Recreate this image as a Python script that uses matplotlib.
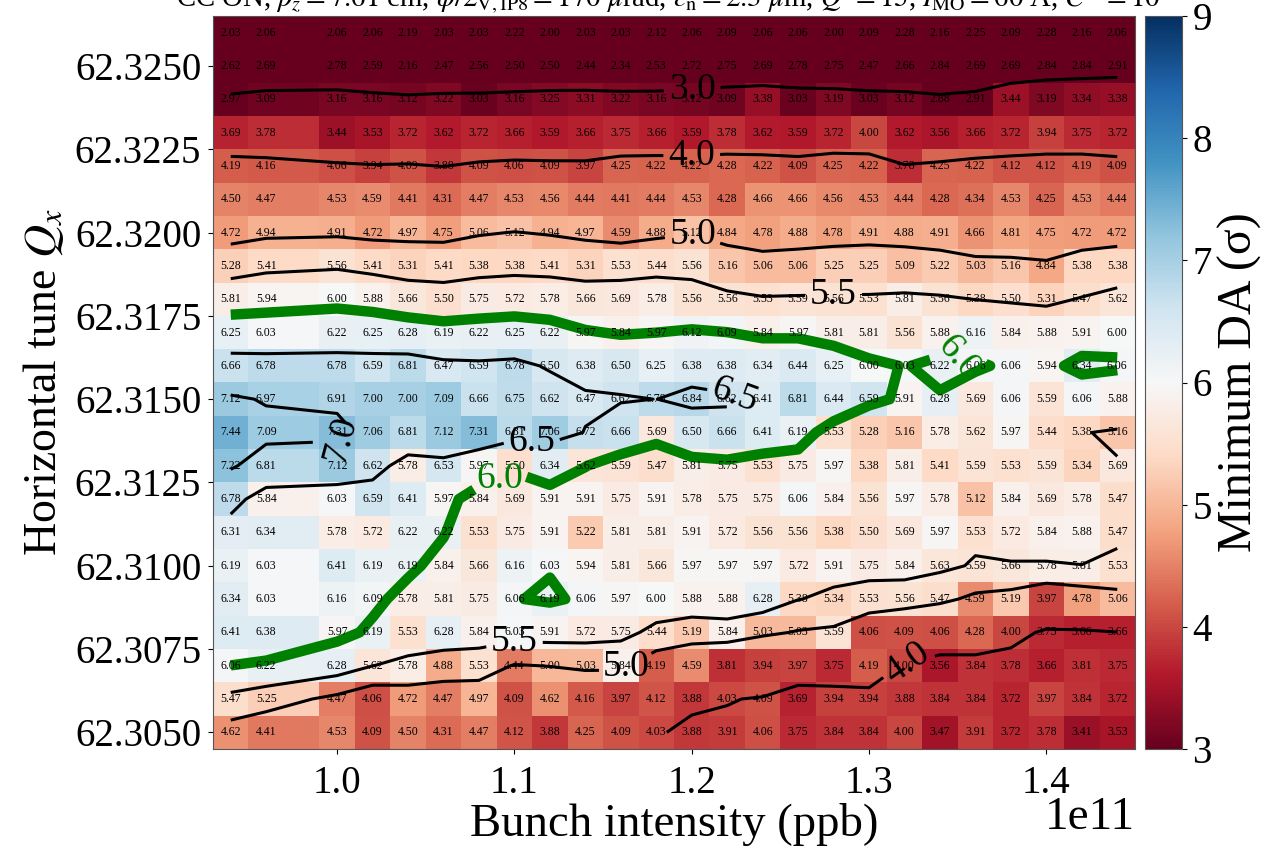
import numpy as np
import matplotlib
matplotlib.use('Agg')
import matplotlib.pyplot as plt

plt.rcParams['font.family'] = ['Liberation Serif', 'DejaVu Serif']
plt.rcParams['mathtext.fontset'] = 'stix'

# Intensite (ppb) et tune horizontal
bunch_intensity = [0.94, 0.96, 1.00, 1.02, 1.04, 1.06, 1.08, 1.10, 1.12, 1.14, 1.16, 1.18, 1.20,
                   1.22, 1.24, 1.26, 1.28, 1.30, 1.32, 1.34, 1.36, 1.38, 1.40, 1.42, 1.44]
tune_qx = [62.326, 62.325, 62.324, 62.323, 62.322, 62.321, 62.320, 62.319, 62.318, 62.317, 62.316,
           62.315, 62.314, 62.313, 62.312, 62.311, 62.310, 62.309, 62.308, 62.307, 62.306, 62.305]

# DA minimum, une ligne par tune (du haut vers le bas)
da_326 = [2.03, 2.06, 2.06, 2.06, 2.19, 2.03, 2.03, 2.22, 2.00, 2.03, 2.03, 2.12, 2.06, 2.09, 2.06, 2.06, 2.00, 2.09, 2.28, 2.16, 2.25, 2.09, 2.28, 2.16, 2.06]
da_325 = [2.62, 2.69, 2.78, 2.59, 2.16, 2.47, 2.56, 2.50, 2.50, 2.44, 2.34, 2.53, 2.72, 2.75, 2.69, 2.78, 2.75, 2.47, 2.66, 2.84, 2.69, 2.69, 2.84, 2.84, 2.91]
da_324 = [2.97, 3.09, 3.16, 3.16, 3.12, 3.22, 3.03, 3.16, 3.25, 3.31, 3.22, 3.16, 3.12, 3.09, 3.38, 3.03, 3.19, 3.03, 3.12, 2.88, 2.91, 3.44, 3.19, 3.34, 3.38]
da_323 = [3.69, 3.78, 3.44, 3.53, 3.72, 3.62, 3.72, 3.66, 3.59, 3.66, 3.75, 3.66, 3.59, 3.78, 3.62, 3.59, 3.72, 4.00, 3.62, 3.56, 3.66, 3.72, 3.94, 3.75, 3.72]
da_322 = [4.19, 4.16, 4.06, 3.94, 4.09, 3.88, 4.09, 4.06, 4.09, 3.97, 4.25, 4.22, 4.22, 4.28, 4.22, 4.09, 4.25, 4.22, 3.78, 4.25, 4.22, 4.12, 4.12, 4.19, 4.09]
da_321 = [4.50, 4.47, 4.53, 4.59, 4.41, 4.31, 4.47, 4.53, 4.56, 4.44, 4.41, 4.44, 4.53, 4.28, 4.66, 4.66, 4.56, 4.53, 4.44, 4.28, 4.34, 4.53, 4.25, 4.53, 4.44]
da_320 = [4.72, 4.94, 4.91, 4.72, 4.97, 4.75, 5.06, 5.12, 4.94, 4.97, 4.59, 4.88, 5.12, 4.84, 4.78, 4.88, 4.78, 4.91, 4.88, 4.91, 4.66, 4.81, 4.75, 4.72, 4.72]
da_319 = [5.28, 5.41, 5.56, 5.41, 5.31, 5.41, 5.38, 5.38, 5.41, 5.31, 5.53, 5.44, 5.56, 5.16, 5.06, 5.06, 5.25, 5.25, 5.09, 5.22, 5.03, 5.16, 4.84, 5.38, 5.38]
da_318 = [5.81, 5.94, 6.00, 5.88, 5.66, 5.50, 5.75, 5.72, 5.78, 5.66, 5.69, 5.78, 5.56, 5.56, 5.53, 5.59, 5.56, 5.53, 5.81, 5.56, 5.38, 5.50, 5.31, 5.47, 5.62]
da_317 = [6.25, 6.03, 6.22, 6.25, 6.28, 6.19, 6.22, 6.25, 6.22, 5.97, 5.84, 5.97, 6.12, 6.09, 5.84, 5.97, 5.81, 5.81, 5.56, 5.88, 6.16, 5.84, 5.88, 5.91, 6.00]
da_316 = [6.66, 6.78, 6.78, 6.59, 6.81, 6.47, 6.59, 6.78, 6.50, 6.38, 6.50, 6.25, 6.38, 6.38, 6.34, 6.44, 6.25, 6.00, 6.03, 6.22, 6.06, 6.06, 5.94, 6.34, 6.06]
da_315 = [7.12, 6.97, 6.91, 7.00, 7.00, 7.09, 6.66, 6.75, 6.62, 6.47, 6.62, 6.78, 6.84, 6.62, 6.41, 6.81, 6.44, 6.59, 5.91, 6.28, 5.69, 6.06, 5.59, 6.06, 5.88]
da_314 = [7.44, 7.09, 7.31, 7.06, 6.81, 7.12, 7.31, 6.81, 7.06, 6.72, 6.66, 5.69, 6.50, 6.66, 6.41, 6.19, 5.53, 5.28, 5.16, 5.78, 5.62, 5.97, 5.44, 5.38, 5.16]
da_313 = [7.22, 6.81, 7.12, 6.62, 5.78, 6.53, 5.97, 5.50, 6.34, 5.62, 5.59, 5.47, 5.81, 5.75, 5.53, 5.75, 5.97, 5.38, 5.81, 5.41, 5.59, 5.53, 5.59, 5.34, 5.69]
da_312 = [6.78, 5.84, 6.03, 6.59, 6.41, 5.97, 5.84, 5.69, 5.91, 5.91, 5.75, 5.91, 5.78, 5.75, 5.75, 6.06, 5.84, 5.56, 5.97, 5.78, 5.12, 5.84, 5.69, 5.78, 5.47]
da_311 = [6.31, 6.34, 5.78, 5.72, 6.22, 6.22, 5.53, 5.75, 5.91, 5.22, 5.81, 5.81, 5.91, 5.72, 5.56, 5.56, 5.38, 5.50, 5.69, 5.97, 5.53, 5.72, 5.84, 5.88, 5.47]
da_310 = [6.19, 6.03, 6.41, 6.19, 6.19, 5.84, 5.66, 6.16, 6.03, 5.94, 5.81, 5.66, 5.97, 5.97, 5.97, 5.72, 5.91, 5.75, 5.84, 5.63, 5.59, 5.66, 5.78, 5.81, 5.53]
da_309 = [6.34, 6.03, 6.16, 6.09, 5.78, 5.81, 5.75, 6.06, 6.19, 6.06, 5.97, 6.00, 5.88, 5.88, 6.28, 5.38, 5.34, 5.53, 5.56, 5.47, 4.59, 5.19, 3.97, 4.78, 5.06]
da_308 = [6.41, 6.38, 5.97, 6.19, 5.53, 6.28, 5.84, 6.03, 5.91, 5.72, 5.75, 5.44, 5.19, 5.84, 5.03, 5.03, 5.59, 4.06, 4.09, 4.06, 4.28, 4.00, 3.75, 3.66, 3.66]
da_307 = [6.06, 6.22, 6.28, 5.62, 5.78, 4.88, 5.53, 4.44, 5.00, 5.03, 5.84, 4.19, 4.59, 3.81, 3.94, 3.97, 3.75, 4.19, 4.00, 3.56, 3.84, 3.78, 3.66, 3.81, 3.75]
da_306 = [5.47, 5.25, 4.47, 4.06, 4.72, 4.47, 4.97, 4.09, 4.62, 4.16, 3.97, 4.12, 3.88, 4.03, 4.09, 3.69, 3.94, 3.94, 3.88, 3.84, 3.84, 3.72, 3.97, 3.84, 3.72]
da_305 = [4.62, 4.41, 4.53, 4.09, 4.50, 4.31, 4.47, 4.12, 3.88, 4.25, 4.09, 4.03, 3.88, 3.91, 4.06, 3.75, 3.84, 3.84, 4.00, 3.47, 3.91, 3.72, 3.78, 3.41, 3.53]

# Positions et rotations des etiquettes par niveau (intensite, tune, angle)
labels_par_niveau = {
    3.0: [(1.20, 62.3245, 0)],
    4.0: [(1.20, 62.3222, 0), (1.325, 62.3064, 35)],
    5.0: [(1.20, 62.3198, 0), (1.16, 62.3073, 0)],
    5.5: [(1.28, 62.3182, 0), (1.10, 62.3077, 0)],
    6.5: [(1.225, 62.3152, -20), (1.11, 62.3139, 0)],
    7.0: [(1.00, 62.3140, 75)],
}
green_labels = [(1.095, 62.3122, 0), (1.35, 62.3161, -50)]


def lisser(z, sigma=0.73):
    # Petit filtre gaussien pour adoucir les contours
    n = 4
    k = np.exp(-0.5 * (np.arange(-n, n + 1) / sigma) ** 2)
    k = k / k.sum()
    pad = np.pad(z, n, mode='symmetric')
    pad = np.apply_along_axis(lambda r: np.convolve(r, k, mode='same'), 0, pad)
    pad = np.apply_along_axis(lambda r: np.convolve(r, k, mode='same'), 1, pad)
    return pad[n:-n, n:-n]


def tracer_contour(niveau, labels, couleur, largeur):
    # Un contour par niveau, sinon clabel(levels=...) plante avec manual
    cs = ax.contour(x * 1e11, y, da_lisse, levels=[niveau], colors=couleur, linewidths=largeur)
    textes = ax.clabel(cs, manual=[(a * 1e11, b) for a, b, _ in labels], inline=True, fmt='%.1f', fontsize=27)
    for t, lab in zip(textes, labels):
        t.set_rotation(lab[2])


da = np.array([da_326, da_325, da_324, da_323, da_322, da_321, da_320, da_319, da_318, da_317, da_316,
               da_315, da_314, da_313, da_312, da_311, da_310, da_309, da_308, da_307, da_306, da_305])
x = np.array(bunch_intensity)
y = np.array(tune_qx)

# Bords des cellules : chaque case fait 0.02 de large, la colonne 0.96 va jusqu'a 0.99
x_bords = np.append(x - 0.01, x[-1] + 0.01)
y_bords = np.append(y + 0.0005, y[-1] - 0.0005)

W, H = 1273, 848
fig = plt.figure(figsize=(W / 100, H / 100), dpi=100)
ax = fig.add_axes([213 / W, 1 - 749 / H, 922 / W, 733 / H])
cax = fig.add_axes([1145 / W, 1 - 749 / H, 37 / W, 733 / H])

mesh = ax.pcolormesh(x_bords * 1e11, y_bords, da, cmap='RdBu', vmin=3, vmax=9)

for i in range(len(y)):
    for j in range(len(x)):
        ax.text(x[j] * 1e11, y[i], f'{da[i, j]:.2f}', ha='center', va='center', fontsize=8.5, color='black')

da_lisse = lisser(da)
for niveau, positions in labels_par_niveau.items():
    tracer_contour(niveau, positions, 'black', 2.2)
tracer_contour(6.0, green_labels, 'green', 7.5)

ax.set_xlim(0.93e11, 1.45e11)
ax.set_ylim(62.3045, 62.3265)
ax.set_xticks([1.0e11, 1.1e11, 1.2e11, 1.3e11, 1.4e11])
ax.set_yticks([62.305, 62.3075, 62.31, 62.3125, 62.315, 62.3175, 62.32, 62.3225, 62.325])
ax.set_yticklabels(['62.3050', '62.3075', '62.3100', '62.3125', '62.3150', '62.3175', '62.3200', '62.3225', '62.3250'])
ax.tick_params(labelsize=28)
ax.tick_params(axis='x', pad=8)
ax.tick_params(axis='y', pad=5)
ax.xaxis.get_offset_text().set_fontsize(34)
ax.xaxis.OFFSETTEXTPAD = -4
ax.set_xlabel('Bunch intensity (ppb)', fontsize=33.7, labelpad=1)
ax.set_ylabel('Horizontal tune $Q_x$', fontsize=33, labelpad=6)
for s in ax.spines.values():
    s.set_color('#555555')

fig.text(668 / W, 1 - 7 / H,
         r"CC ON, $\beta_{z}=7.61$ cm, $\phi/2_{\rm V,IP8}=170$ $\mu$rad, $\epsilon_{\rm n}=2.3$ $\mu$m, $Q'=15$, $I_{\rm MO}=60$ A, $C^{-}=10$",
         ha='center', va='baseline', fontsize=20.7)

cb = fig.colorbar(mesh, cax=cax)
cb.set_ticks([3, 4, 5, 6, 7, 8, 9])
cb.ax.tick_params(labelsize=28, pad=4)
cb.outline.set_edgecolor('#555555')
cb.set_label('Minimum DA (σ)', fontsize=34.5, labelpad=4)

fig.savefig('out.png', dpi=100)
